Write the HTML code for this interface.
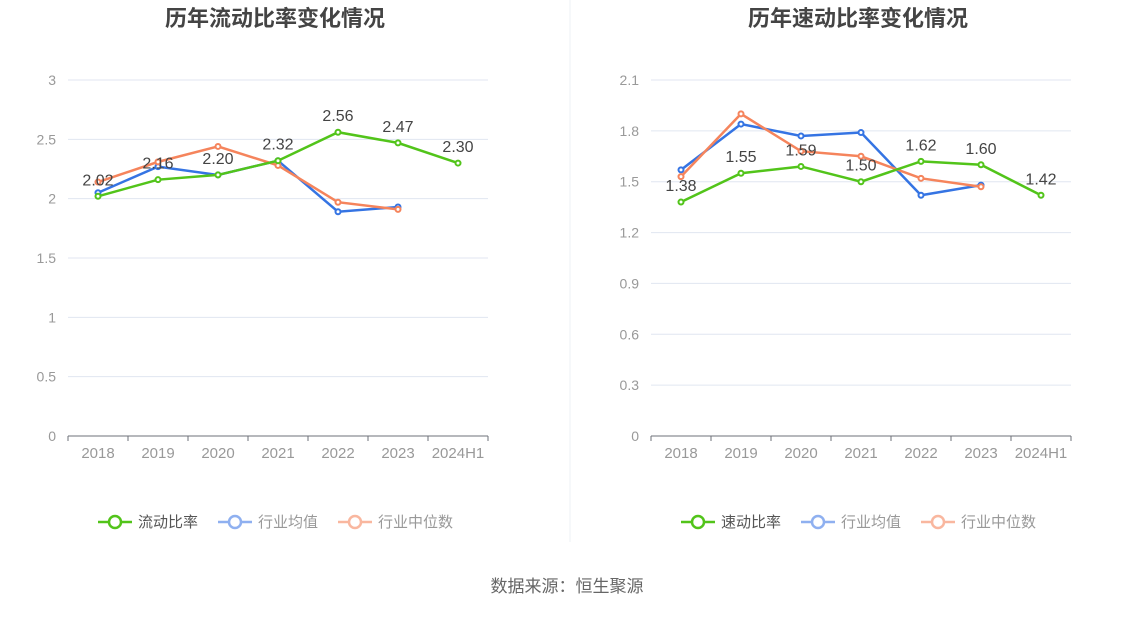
<!DOCTYPE html>
<html><head><meta charset="utf-8"><style>
body{margin:0;background:#fff;width:1134px;height:612px;overflow:hidden;font-family:"Liberation Sans","Noto Sans CJK SC",sans-serif}
svg text{font-family:"Liberation Sans","Noto Sans CJK SC",sans-serif}
</style></head><body>
<svg id="c" width="1134" height="612"></svg>
<script>
const categories=["2018","2019","2020","2021","2022","2023","2024H1"];
const leftMain=[2.02,2.16,2.20,2.32,2.56,2.47,2.30];
const leftAvg=[2.05,2.27,2.20,2.32,1.89,1.93];
const leftMed=[2.14,2.31,2.44,2.28,1.97,1.91];
const leftTicks=["0","0.5","1","1.5","2","2.5","3"];
const rightMain=[1.38,1.55,1.59,1.50,1.62,1.60,1.42];
const rightAvg=[1.57,1.84,1.77,1.79,1.42,1.48];
const rightMed=[1.53,1.90,1.68,1.65,1.52,1.47];
const rightTicks=["0","0.3","0.6","0.9","1.2","1.5","1.8","2.1"];
const NS="http://www.w3.org/2000/svg";
const svg=document.getElementById('c');
function mk(t,a,p){const e=document.createElementNS(NS,t);for(const k in a)e.setAttribute(k,a[k]);(p||svg).appendChild(e);return e;}
function chart(x0,x1,ticks,maxV,main,avg,med,title,mainName,nm){
  const g=mk('g',{});
  
  
  const yb=436,yt=80;
  const y=v=>yb-(v/maxV)*(yb-yt);
  const step=(x1-x0)/categories.length;
  const x=i=>x0+step*(i+0.5);
  const t=mk('text',{x:(x0+x1)/2-3,y:26,'text-anchor':'middle','font-size':22,'font-weight':'bold',fill:'#444'},g);t.textContent=title;
  
  ticks.forEach(tk=>{const v=parseFloat(tk);const yy=y(v);
    if(v>0){const l=mk('line',{x1:x0,x2:x1,y1:yy,y2:yy,stroke:'#e0e6f1'},g);}
    const tx=mk('text',{x:x0-12,y:yy+5,'text-anchor':'end','font-size':14,fill:'#999'},g);tx.textContent=tk;
    });
  const ax=mk('line',{x1:x0,x2:x1,y1:yb,y2:yb,stroke:'#6e7079'},g);
  
  categories.forEach((c,i)=>{
    mk('line',{x1:x0+step*(i+1),x2:x0+step*(i+1),y1:yb,y2:yb+5,stroke:'#6e7079'},g);
    const tx=mk('text',{x:x(i),y:yb+22,'text-anchor':'middle','font-size':15,fill:'#999'},g);tx.textContent=c;
    });
  mk('line',{x1:x0,x2:x0,y1:yb,y2:yb+5,stroke:'#6e7079'},g);
  function series(d,col,name,labels){
    const p=mk('polyline',{points:d.map((v,i)=>x(i)+','+y(v)).join(' '),fill:'none',stroke:col,'stroke-width':2.5},g);
    
    d.forEach((v,i)=>{const c=mk('circle',{cx:x(i),cy:y(v),r:2.5,fill:'#fff',stroke:col,'stroke-width':2},g);
      
      if(labels){const tx=mk('text',{x:x(i),y:y(v)-11,'text-anchor':'middle','font-size':16,fill:'#444'},g);tx.textContent=v.toFixed(2);
        }});
  }
  series(avg,'#3574e3','avg',false);
  series(med,'#f5845c','median',false);
  series(main,'#52c41a','main',true);
  const lx=(x0+x1)/2-180;
  const items=[[mainName,'#52c41a','#555'],['行业均值','#8fb0f0','#999'],['行业中位数','#f9b79f','#999']];
  let cx=lx;
  items.forEach((it,k)=>{const lg=mk('g',{},g);
    
    mk('line',{x1:cx,x2:cx+34,y1:522,y2:522,stroke:it[1],'stroke-width':2.5},lg);
    mk('circle',{cx:cx+17,cy:522,r:6,fill:'#fff',stroke:it[1],'stroke-width':2.5},lg);
    const tx=mk('text',{x:cx+40,y:527,'font-size':15,fill:it[2]},lg);tx.textContent=it[0];
    cx+=40+it[0].length*15+20;});
}
chart(68,488,leftTicks,3,leftMain,leftAvg,leftMed,'历年流动比率变化情况','流动比率','left-chart');
chart(651,1071,rightTicks,2.1,rightMain,rightAvg,rightMed,'历年速动比率变化情况','速动比率','right-chart');
const d=mk('line',{x1:570,x2:570,y1:0,y2:542,stroke:'#eef0f4'});

const s=mk('text',{x:567,y:592,'text-anchor':'middle','font-size':17,fill:'#666'});s.textContent='数据来源：恒生聚源';

</script>
</body></html>
